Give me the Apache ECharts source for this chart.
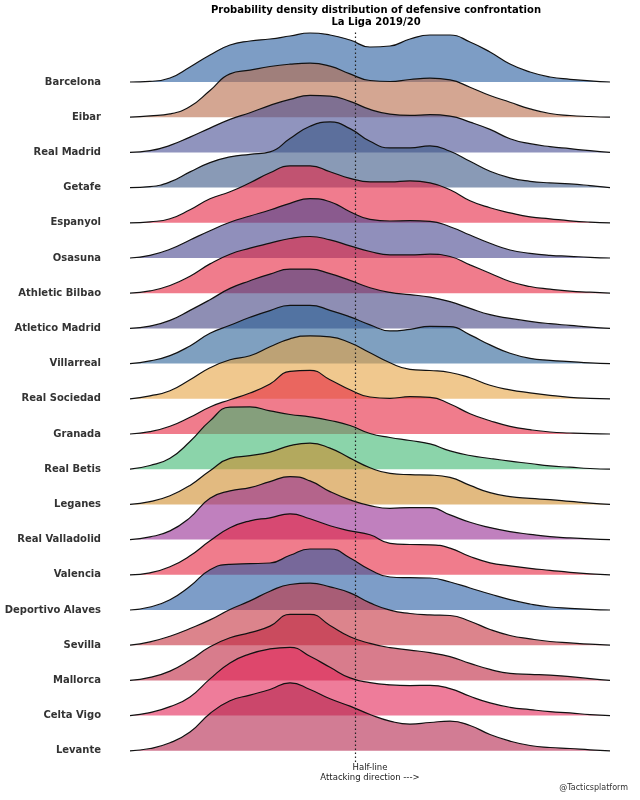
<!DOCTYPE html>
<html>
<head>
<meta charset="utf-8">
<script src="https://cdn.jsdelivr.net/npm/echarts@6/dist/echarts.min.js"></script>
<style>
  html, body { margin: 0; padding: 0; background: #fff; }
  #chart { width: 640px; height: 800px; }
</style>
</head>
<body>
<div id="chart"></div>
<script>
// teams, top to bottom
const teams = ['Barcelona', 'Eibar', 'Real Madrid', 'Getafe', 'Espanyol', 'Osasuna', 'Athletic Bilbao',
  'Atletico Madrid', 'Villarreal', 'Real Sociedad', 'Granada', 'Real Betis', 'Leganes', 'Real Valladolid',
  'Valencia', 'Deportivo Alaves', 'Sevilla', 'Mallorca', 'Celta Vigo', 'Levante'];

// fill colours (drawn at 0.6 opacity)
const fills = ['#265c9e', '#b76b49', '#464d93', '#3a5785', '#e62543', '#46448e', '#e6253f',
  '#434382', '#2a6196', '#e6a343', '#e6253f', '#3eb771', '#cf8c2b', '#962b93',
  '#e6253f', '#265ca3', '#c5323f', '#be253f', '#e32557', '#b4254d'];

// position along the pitch where the density is sampled
const positions = [0, 5, 10, 15, 20, 25, 30, 35, 40, 45, 50, 55, 60, 65, 70, 75, 80, 85, 90, 95, 100, 105, 110, 115, 120];
const halfLine = 56.25;

// density heights per team
const barcelona = [0, 0.7, 4, 15, 27, 37, 41, 43, 46, 49, 47, 42, 35, 36, 43, 47, 47, 40, 30, 18, 10, 5, 2.7, 1.2, 0];
const eibar = [0, 1.3, 3.3, 10.7, 26.7, 43.3, 47, 50.7, 53, 54, 51, 43.3, 36.7, 35.7, 37.7, 39, 37.3, 30, 21.7, 15, 8.3, 3.7, 1.7, 0.7, 0];
const realMadrid = [0, 1.7, 7, 15.3, 24.3, 33, 39.7, 47, 53, 57, 56.3, 51, 43, 38.3, 37, 37.7, 36.3, 30.3, 23, 13.7, 8.7, 5.7, 3.7, 1.7, 0];
const getafe = [0, 1, 5.7, 15.7, 25, 30.7, 33.3, 35.7, 49, 61.3, 65.7, 59, 46.3, 39.7, 39.7, 41.7, 36.3, 26.3, 16.3, 9.7, 6.3, 4.7, 3.7, 2, 0];
const espanyol = [0, 1, 4, 13, 24, 31, 40, 50, 57, 57, 51, 44.5, 41, 41, 42, 40, 33, 22, 15, 10, 6, 4, 2, 0.7, 0];
const osasuna = [0, 2.7, 8.7, 18, 27.3, 35.7, 42, 48, 54.7, 59.3, 56.3, 46.3, 38.7, 37, 37.3, 36.7, 31.3, 23, 14.7, 8, 4.7, 2.7, 1.7, 0.7, 0];
const athletic = [0, 2.3, 7.7, 17, 29.3, 39, 45, 50, 54.7, 56.7, 53.3, 47.3, 41.7, 38.3, 38.3, 39, 36.7, 28.3, 20, 11.7, 6.7, 4, 2, 1, 0];
const atletico = [0, 2.3, 8, 18, 28.7, 40, 47.7, 54.3, 59.3, 59.3, 54.7, 48, 40.7, 36, 33.7, 31.3, 26.7, 20, 13.7, 10, 7, 4.7, 3, 1.3, 0];
const villarreal = [0, 2.7, 8, 17.7, 30.3, 38.3, 46.3, 53, 58.3, 58.3, 53.3, 46.7, 38.7, 32.7, 34.3, 37.3, 37, 28.7, 18.7, 10.3, 5.3, 3.3, 2, 0.7, 0];
const realSociedad = [0, 3, 8, 19, 31, 39, 43, 52, 60, 63, 62, 56, 46, 36, 29.5, 28.3, 26.3, 21, 13.5, 9, 6, 3.5, 1.5, 0.5, 0];
const granada = [0, 2.3, 7.7, 16.7, 27, 34.3, 41, 50, 62.7, 63.7, 54.3, 44.3, 37, 35.7, 37.3, 36.7, 30, 20.3, 13.3, 7.7, 4.3, 2, 1, 0.3, 0];
const realBetis = [0, 3.7, 11, 27.7, 48.3, 62, 62.3, 58.3, 54.7, 52.3, 48.7, 43.7, 35.7, 31.7, 28.7, 25.3, 18.3, 13.7, 10.7, 8, 5.7, 3.3, 2, 0.7, 0];
const leganes = [0, 2.7, 8.7, 19, 33.7, 46, 48.7, 52.3, 58.7, 61.3, 56.3, 46.3, 36.7, 31, 29.7, 29.3, 27, 19, 11.7, 7.7, 6, 4.7, 3, 1.3, 0];
const valladolid = [0, 2.7, 8.7, 22, 41.3, 48.7, 52, 58, 63, 58.7, 48, 39.7, 34, 31.3, 32, 32, 24.7, 17.3, 12, 8, 5.3, 3, 1.7, 0.7, 0];
const valencia = [0, 2, 8, 19, 34, 47, 54, 57, 61, 56, 49, 44, 40, 31.5, 30.3, 30, 26.7, 18.3, 12, 9, 6.5, 4.5, 2.5, 1, 0];
const alaves = [0, 3, 10.3, 23.7, 40.3, 45.7, 46.3, 47, 54.7, 61, 61, 52, 40.3, 33, 32.3, 32, 28, 22, 16, 10.3, 6, 3, 1.7, 0.7, 0];
const sevilla = [0, 3.3, 9, 16.7, 25.3, 35.7, 44.3, 54, 60.7, 62, 58.3, 52.3, 42.3, 35, 31.7, 30.3, 29.7, 24, 15.7, 9.7, 6.3, 3.7, 2.3, 1, 0];
const mallorca = [0, 3, 9.3, 20.3, 33.7, 42.7, 47.7, 54.3, 66, 66, 55, 43.7, 37, 32.7, 30.3, 27.7, 23.7, 17, 11, 7, 6, 5.3, 3.7, 1.7, 0];
const celtaVigo = [0, 3, 9, 18.7, 36.7, 52.7, 61.7, 66.7, 68.3, 59.3, 48.3, 37.7, 33, 30.7, 30, 30.3, 27, 19.3, 12.7, 8.3, 6, 4, 2.7, 1, 0];
const levante = [0, 2.3, 8, 18.7, 37.3, 50, 55.7, 61.3, 68, 61.3, 52, 44.7, 36.3, 29.7, 26.7, 28.3, 29.7, 25.3, 16.3, 9.7, 5.3, 3.3, 2.3, 1, 0];

const densities = [barcelona, eibar, realMadrid, getafe, espanyol, osasuna, athletic, atletico, villarreal,
  realSociedad, granada, realBetis, leganes, valladolid, valencia, alaves, sevilla, mallorca, celtaVigo, levante];

// layout of the ridges
const firstBase = 82;
const rowStep = 35.2;
const rowSpan = 75;
const font = 'DejaVu Sans';

const chart = echarts.init(document.getElementById('chart'), null, { renderer: 'canvas' });

const grid = [];
const xAxis = [];
const yAxis = [];
const series = [];

teams.forEach((team, i) => {
  const base = firstBase + i * rowStep;
  grid.push({ left: 130, right: 30, top: base - rowSpan, height: rowSpan });
  xAxis.push({ gridIndex: i, type: 'value', min: 0, max: 120, show: false });
  yAxis.push({
    gridIndex: i, type: 'value', min: 0, max: rowSpan, interval: rowSpan,
    axisLine: { show: false }, axisTick: { show: false }, splitLine: { show: false },
    axisLabel: {
      margin: 29, fontFamily: font, fontSize: 10, fontWeight: 'bold', color: '#333',
      formatter: v => (v === 0 ? team : '')
    }
  });
  series.push({
    type: 'line',
    xAxisIndex: i,
    yAxisIndex: i,
    smooth: 0.5,
    showSymbol: false,
    symbol: 'none',
    clip: false,
    lineStyle: { color: '#111', width: 1.2 },
    areaStyle: { color: fills[i], opacity: 0.6 },
    data: positions.map((x, k) => [x, densities[i][k]])
  });
});

// overlay grid for the half-line and the axis caption
const ov = teams.length;
grid.push({ left: 130, right: 30, top: 30, bottom: 38 });
xAxis.push({
  gridIndex: ov, type: 'value', min: 0, max: 120,
  axisLine: { show: false }, axisTick: { show: false }, axisLabel: { show: false }, splitLine: { show: false },
  name: 'Half-line\nAttacking direction --->', nameLocation: 'middle', nameGap: 1,
  nameTextStyle: { fontFamily: font, fontSize: 8.5, color: '#222', lineHeight: 10 }
});
yAxis.push({ gridIndex: ov, type: 'value', min: 0, max: 1, show: false });
series.push({
  type: 'line',
  xAxisIndex: ov,
  yAxisIndex: ov,
  z: 10,
  data: [],
  markLine: {
    silent: true,
    symbol: ['none', 'none'],
    label: { show: false },
    lineStyle: { color: '#222', type: [1.5, 2.5], width: 1.2 },
    data: [{ xAxis: halfLine }]
  }
});

chart.setOption({
  animation: false,
  backgroundColor: '#fff',
  title: [
    {
      text: 'Probability density distribution of defensive confrontation\nLa Liga 2019/20',
      left: 371, top: 0, textAlign: 'center',
      textStyle: { fontFamily: font, fontSize: 10, fontWeight: 'bold', color: '#000', lineHeight: 11.5 }
    },
    {
      text: '@Tacticsplatform',
      right: 7, bottom: 3,
      textStyle: { fontFamily: font, fontSize: 8, fontWeight: 'normal', color: '#333' }
    }
  ],
  grid: grid,
  xAxis: xAxis,
  yAxis: yAxis,
  series: series
});
</script>
</body>
</html>
